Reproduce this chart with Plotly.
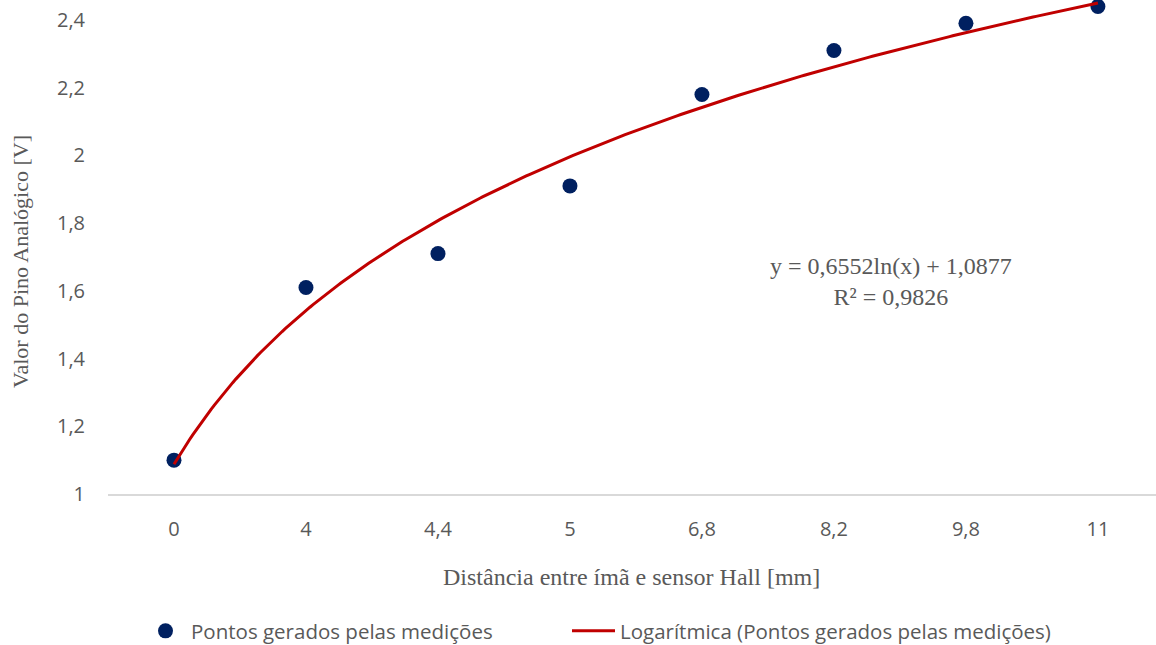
import numpy as np
import plotly.graph_objects as go

categories = ["0", "4", "4,4", "5", "6,8", "8,2", "9,8", "11"]
values = [1.10, 1.61, 1.71, 1.91, 2.18, 2.31, 2.39, 2.44]
trend_a = 0.6552
trend_b = 1.0877
y_ticks = [1, 1.2, 1.4, 1.6, 1.8, 2, 2.2, 2.4]
y_tick_text = ["1", "1,2", "1,4", "1,6", "1,8", "2", "2,2", "2,4"]

idx = list(range(1, len(categories) + 1))
xt = np.linspace(1, len(categories), 300)
yt = trend_a * np.log(xt) + trend_b

W, H = 1156, 645
L, R, T, B = 108, 0, 0, 151
pw, ph = W - L - R, H - T - B


def px(x):
    return (x - L) / pw


def py(y):
    return (H - B - y) / ph


fig = go.Figure()
fig.add_trace(go.Scatter(
    x=idx, y=values, mode="markers", name="Pontos gerados pelas medições",
    marker=dict(color="#002060", size=15), cliponaxis=False, legend="legend",
))
fig.add_trace(go.Scatter(
    x=xt, y=yt, mode="lines", name="Logarítmica (Pontos gerados pelas medições)",
    line=dict(color="#C00000", width=3), cliponaxis=False, legend="legend2",
))

sans = "Open Sans, Noto Sans, sans-serif"
serif = "Liberation Serif, Times New Roman, serif"
grey = "#595959"
tick_font = dict(family=sans, size=20, color=grey)
leg_font = dict(family=sans, size=20.5, color=grey)

fig.update_layout(
    width=W, height=H,
    margin=dict(l=L, r=R, t=T, b=B),
    paper_bgcolor="white", plot_bgcolor="white",
    showlegend=True,
    legend=dict(orientation="h", xref="container", yref="container",
                x=140 / W, xanchor="left", y=1 - 631 / H, yanchor="middle",
                font=leg_font, itemwidth=41),
    legend2=dict(orientation="h", xref="container", yref="container",
                 x=567 / W, xanchor="left", y=1 - 631 / H, yanchor="middle",
                 font=leg_font, itemwidth=43),
    xaxis=dict(
        range=[0.5, 8.44], tickmode="array", tickvals=idx, ticktext=categories,
        showgrid=False, zeroline=False, showline=True, linecolor="#d9d9d9", linewidth=1.5,
        ticks="", tickfont=tick_font, ticklabelstandoff=16, automargin=False,
    ),
    yaxis=dict(
        range=[1, 2.459], tickmode="array", tickvals=y_ticks, ticktext=y_tick_text,
        showgrid=False, zeroline=False, showline=False,
        ticks="", tickfont=tick_font, ticklabelstandoff=22, automargin=False,
    ),
    annotations=[
        dict(x=px(891), y=py(281), xref="paper", yref="paper", showarrow=False,
             xanchor="center", yanchor="middle",
             text="y = 0,6552ln(x) + 1,0877<br>R² = 0,9826",
             font=dict(family=serif, size=24, color=grey), align="center"),
        dict(x=px(631), y=py(577), xref="paper", yref="paper", showarrow=False,
             xanchor="center", yanchor="middle",
             text="Distância entre ímã e sensor Hall [mm]",
             font=dict(family=serif, size=24, color=grey)),
        dict(x=px(20), y=py(262), xref="paper", yref="paper", showarrow=False,
             xanchor="center", yanchor="middle",
             text="Valor do Pino Analógico [V]", textangle=-90,
             font=dict(family=serif, size=22, color=grey)),
    ],
)

fig.write_html("out.html", config={"displayModeBar": False},
               post_script="document.body.style.margin='0';")
